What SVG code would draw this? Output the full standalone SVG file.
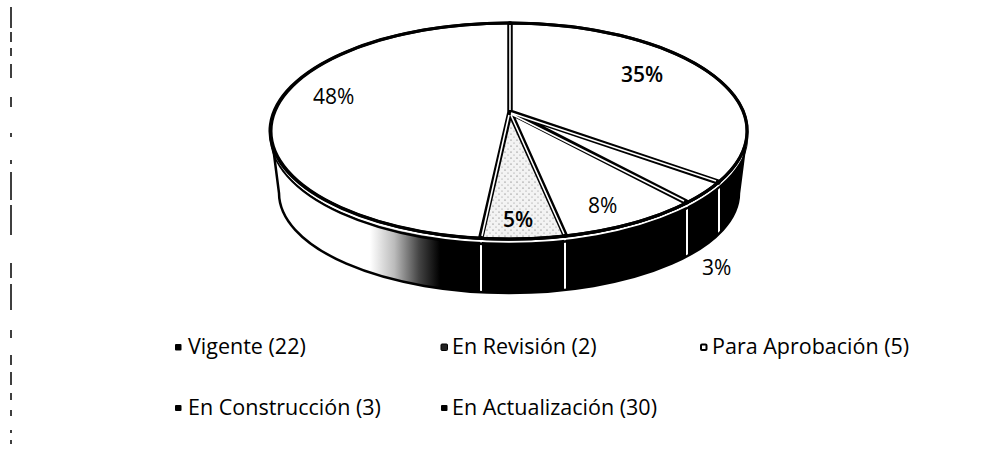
<svg xmlns="http://www.w3.org/2000/svg" width="995" height="451" viewBox="0 0 995 451">
<style>
.lbl{font-family:"Open Sans","Liberation Sans",sans-serif;font-size:21px;fill:#000}
.leg{font-family:"Open Sans","Liberation Sans",sans-serif;font-size:21.5px;fill:#000}
.top{stroke:#000;stroke-width:3;stroke-linejoin:round}
.side{stroke:none}
.sep{stroke:#fff;stroke-width:2;fill:none}
.radB{stroke:#000;stroke-width:5.5;stroke-linecap:round}
.radW{stroke:#fff;stroke-width:1.6}
</style>
<defs>
<linearGradient id="g48" gradientUnits="userSpaceOnUse" x1="370" y1="0" x2="440" y2="0">
<stop offset="0" stop-color="#fff"/>
<stop offset="0.35" stop-color="#bbb"/>
<stop offset="0.7" stop-color="#444"/>
<stop offset="1" stop-color="#000"/>
</linearGradient>
<pattern id="dots" width="6" height="6" patternUnits="userSpaceOnUse">
<rect width="6" height="6" fill="#f3f3f3"/>
<circle cx="1" cy="2" r="0.6" fill="#555"/>
<circle cx="4" cy="5" r="0.5" fill="#777"/>
</pattern>
</defs>
<rect width="995" height="451" fill="#fff"/>
<path d="M11 7V28M11 32V42M11 48V56M11 64V78M11 97V107M11 133V137M11 160V164M11 172V200M11 205V235M11 263V278M11 284V310M11 330V338M11 355V365M11 372V385M11 393V400M11 410V416M11 430V433M11 440V444" stroke="#000" stroke-width="1.5" fill="none"/>
<g id="pie">
<g id="sides">
<path class="side" fill="#000" d="M719 182A238 108 0 0 0 747 131L739 193A230 100 0 0 1 719 233.8Z"/>
<path class="side" fill="#000" d="M687 202.7A238 108 0 0 0 719 182L719 233.8A230 100 0 0 1 687 256.3Z"/>
<path class="side" fill="#000" d="M565 236A238 108 0 0 0 687 202.7L687 256.3A230 100 0 0 1 565 290Z"/>
<path class="side" fill="#000" d="M481 238.3A238 108 0 0 0 565 236L565 290A230 100 0 0 1 481 292.3Z"/>
<path class="side" fill="url(#g48)" d="M271 131A238 108 0 0 0 481 238.3L481 292.3A230 100 0 0 1 279 193Z"/>
<path class="sep" d="M481 240V293M565 238V291M687 204V257M719 183V235"/>
<path d="M271 136.5A238 108 0 0 0 747 136.5" fill="none" stroke="#000" stroke-width="2.5"/>
<path d="M271 133.8A238 108 0 0 0 747 133.8" fill="none" stroke="#fff" stroke-width="2"/>
<path d="M271 131L279 193A230 100 0 0 0 739 193L747 131" fill="none" stroke="#000" stroke-width="2.5"/>
</g>
<g id="slice-vigente"><path class="top" fill="#fff" d="M510 112L510 23A238 108 0 0 1 719 182Z"/></g>
<g id="slice-revision"><path class="top" fill="#fff" d="M510 112L719 182A238 108 0 0 1 687 202.7Z"/></g>
<g id="slice-aprobacion"><path class="top" fill="#fff" d="M510 112L687 202.7A238 108 0 0 1 565 236Z"/></g>
<g id="slice-construccion"><path class="top" fill="url(#dots)" d="M510 112L565 236A238 108 0 0 1 481 238.3Z"/></g>
<g id="slice-actualizacion"><path class="top" fill="#fff" d="M510 112L481 238.3A238 108 0 0 1 510 23Z"/></g>
<ellipse cx="509" cy="131" rx="238" ry="108" fill="none" stroke="#000" stroke-width="3"/>
<g id="connectors">
<path class="radB" d="M510 112L510 24M510 112L718 182M510 112L686 202M510 112L565 235M510 112L481 237"/>
<path class="radW" d="M510 110L510 25M511 113L716 181M511 114L684 201M511 115L564 234M509 115L482 236"/>
</g>
</g>
<g id="labels">
<text class="lbl" x="313" y="104">48%</text>
<text class="lbl" x="621" y="82" font-weight="600">35%</text>
<text class="lbl" x="503" y="227" font-weight="600">5%</text>
<text class="lbl" x="588" y="213">8%</text>
<text class="lbl" x="702" y="275">3%</text>
</g>
<g id="legend">
<g id="leg-vigente"><rect x="175" y="344" width="6.5" height="6.5" rx="1" fill="#000"/><text class="leg" x="188" y="354">Vigente (22)</text></g>
<g id="leg-revision"><rect x="441" y="344" width="6.5" height="6.5" rx="1" fill="#222" stroke="#000" stroke-width="1"/><text class="leg" x="452" y="354">En Revisión (2)</text></g>
<g id="leg-aprobacion"><rect x="701" y="344.5" width="5.5" height="5.5" rx="1" fill="#fff" stroke="#000" stroke-width="2"/><text class="leg" x="712" y="354">Para Aprobación (5)</text></g>
<g id="leg-construccion"><rect x="175" y="405" width="6.5" height="6" rx="1" fill="#000"/><text class="leg" x="188" y="415">En Construcción (3)</text></g>
<g id="leg-actualizacion"><rect x="441" y="405" width="6.5" height="6" rx="1" fill="#000"/><text class="leg" x="452" y="415">En Actualización (30)</text></g>
</g>
</svg>
